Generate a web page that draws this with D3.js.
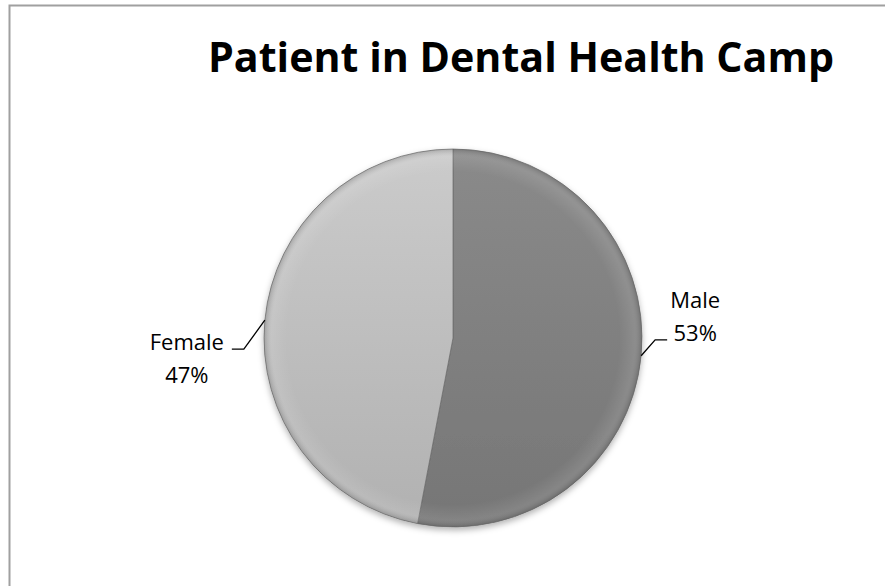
<!DOCTYPE html>
<html>
<head>
<meta charset="utf-8">
<script src="https://cdn.jsdelivr.net/npm/d3@7"></script>
<style>
  body { margin: 0; background: #fff; }
</style>
</head>
<body>
<div id="pie-chart"></div>
<script>
const categories = ["Male", "Female"];
const values = [53, 47];
const percentLabels = ["53%", "47%"];

const data = categories.map((c, i) => ({ name: c, value: values[i], pct: percentLabels[i] }));

const width = 885, height = 586;
const cx = 453, cy = 338, radius = 189;

const svg = d3.select("#pie-chart")
  .append("svg")
  .attr("width", width)
  .attr("height", height)
  .style("display", "block");

const defs = svg.append("defs");

// vertical shading per slice (coords local to the pie group)
const shades = [
  { id: "grad-male", top: "#8a8a8a", bottom: "#767676" },
  { id: "grad-female", top: "#cbcbcb", bottom: "#b1b1b1" }
];
shades.forEach(s => {
  const g = defs.append("linearGradient")
    .attr("id", s.id)
    .attr("gradientUnits", "userSpaceOnUse")
    .attr("x1", 0).attr("y1", -radius)
    .attr("x2", 0).attr("y2", radius);
  g.append("stop").attr("offset", "0%").attr("stop-color", s.top);
  g.append("stop").attr("offset", "100%").attr("stop-color", s.bottom);
});

// soft bevel rim
const rim = defs.append("radialGradient")
  .attr("id", "rim")
  .attr("gradientUnits", "userSpaceOnUse")
  .attr("cx", 0).attr("cy", 0).attr("r", radius);
rim.append("stop").attr("offset", "0.88").attr("stop-color", "#fff").attr("stop-opacity", 0);
rim.append("stop").attr("offset", "0.96").attr("stop-color", "#fff").attr("stop-opacity", 0.1);
rim.append("stop").attr("offset", "1").attr("stop-color", "#444").attr("stop-opacity", 0.25);

const shadow = defs.append("filter")
  .attr("id", "shadow")
  .attr("x", "-10%").attr("y", "-10%")
  .attr("width", "120%").attr("height", "125%");
shadow.append("feDropShadow")
  .attr("dx", 0).attr("dy", 3)
  .attr("stdDeviation", 3)
  .attr("flood-color", "#000")
  .attr("flood-opacity", 0.3);

// outer frame
svg.append("rect")
  .attr("x", 9.5).attr("y", 5.5)
  .attr("width", 900).attr("height", 600)
  .attr("fill", "none")
  .attr("stroke", "#a0a0a0")
  .attr("stroke-width", 2);

// title
svg.append("text")
  .text("Patient in Dental Health Camp")
  .attr("x", 208)
  .attr("y", 72)
  .attr("textLength", 626)
  .attr("lengthAdjust", "spacingAndGlyphs")
  .attr("font-family", "Open Sans")
  .attr("font-weight", 700)
  .attr("font-size", 42)
  .attr("fill", "#000");

const pie = d3.pie()
  .value(d => d.value)
  .sort(null);

const arc = d3.arc()
  .innerRadius(0)
  .outerRadius(radius);

const arcs = pie(data);

const chart = svg.append("g")
  .attr("transform", `translate(${cx},${cy})`);

const sliceGroup = chart.append("g")
  .attr("filter", "url(#shadow)");

sliceGroup.selectAll("path.slice")
  .data(arcs)
  .join("path")
  .attr("class", "slice")
  .attr("d", arc)
  .attr("fill", (d, i) => `url(#${shades[i].id})`)
  .attr("stroke", "#6a6a6a")
  .attr("stroke-width", 0.7);

// rim highlight overlay
chart.append("circle")
  .attr("r", radius)
  .attr("fill", "url(#rim)")
  .style("pointer-events", "none");

// labels with leader lines
const edgeArc = d3.arc().innerRadius(radius).outerRadius(radius);
const leaderOffsets = [
  { elbow: [14, -16], end: [26, -16], text: [54, -48], pctText: [54, -15] },
  { elbow: [-21, 29], end: [-33, 29], text: [-78, 30], pctText: [-78, 63] }
];

arcs.forEach((d, i) => {
  const [ex, ey] = edgeArc.centroid(d);
  const o = leaderOffsets[i];
  chart.append("polyline")
    .attr("points", [[ex, ey], [ex + o.elbow[0], ey + o.elbow[1]], [ex + o.end[0], ey + o.end[1]]].map(p => p.join(",")).join(" "))
    .attr("fill", "none")
    .attr("stroke", "#000")
    .attr("stroke-width", 1.3);

  chart.append("text")
    .text(d.data.name)
    .attr("x", ex + o.text[0])
    .attr("y", ey + o.text[1])
    .attr("text-anchor", "middle")
    .attr("font-family", "Open Sans")
    .attr("font-size", 22)
    .attr("fill", "#000");

  chart.append("text")
    .text(d.data.pct)
    .attr("x", ex + o.pctText[0])
    .attr("y", ey + o.pctText[1])
    .attr("text-anchor", "middle")
    .attr("font-family", "Open Sans")
    .attr("font-size", 22)
    .attr("fill", "#000");
});
</script>
</body>
</html>
